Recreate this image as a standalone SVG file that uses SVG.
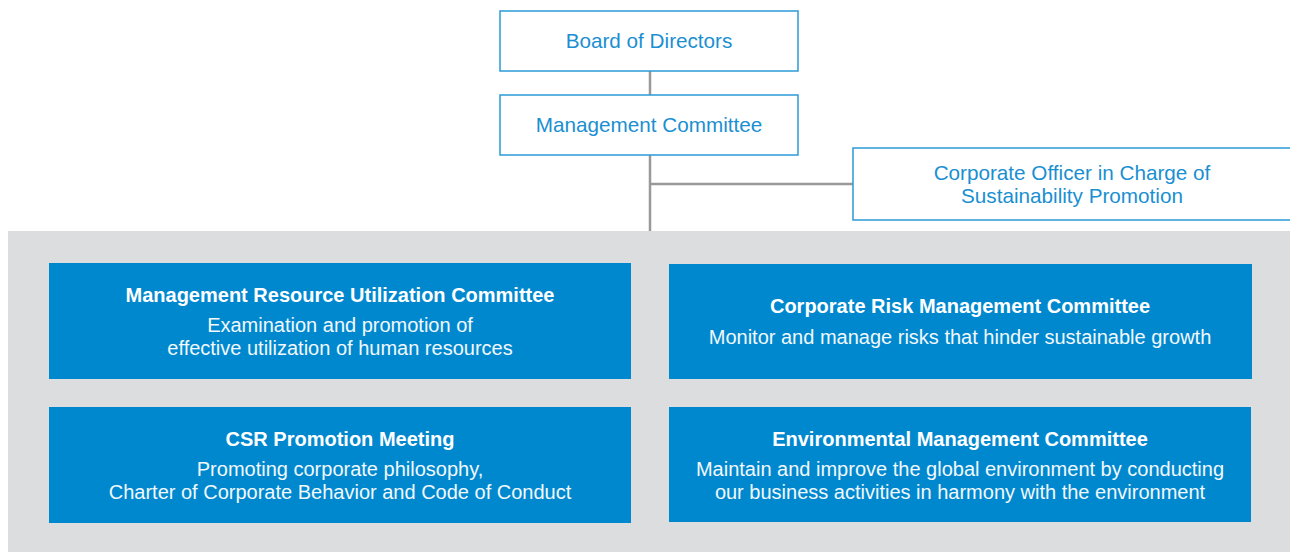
<svg xmlns="http://www.w3.org/2000/svg" width="1290" height="552" viewBox="0 0 1290 552">
  <style>
    .outline { fill: #ffffff; stroke: #2a9ad6; stroke-width: 1.5; }
    .outline-text { font-family: "Liberation Sans", Arial, sans-serif; font-size: 20.7px; fill: #1a8fd1; text-anchor: middle; }
    .panel { fill: #dcdddf; }
    .committee { fill: #0088cf; }
    .title { font-family: "Liberation Sans", Arial, sans-serif; font-size: 20px; font-weight: bold; fill: #ffffff; text-anchor: middle; }
    .desc { font-family: "Liberation Sans", Arial, sans-serif; font-size: 20px; fill: #f2f8fc; text-anchor: middle; }
    .link { stroke: #999999; stroke-width: 2.5; fill: none; }
  </style>

  <!-- shaded area holding the committees -->
  <rect class="panel" x="8" y="231" width="1282" height="321"/>

  <g id="connectors">
    <line class="link" x1="650" y1="71" x2="650" y2="95"/>
    <line class="link" x1="650" y1="155" x2="650" y2="231"/>
    <line class="link" x1="650" y1="184" x2="853" y2="184"/>
  </g>

  <g id="board">
    <rect class="outline" x="500" y="11" width="298" height="60"/>
    <text class="outline-text" x="649" y="48">Board of Directors</text>
  </g>

  <g id="management-committee">
    <rect class="outline" x="500" y="95" width="298" height="60"/>
    <text class="outline-text" x="649" y="132">Management Committee</text>
  </g>

  <g id="corporate-officer">
    <rect class="outline" x="853" y="148" width="445" height="72"/>
    <text class="outline-text" x="1072" y="180">Corporate Officer in Charge of</text>
    <text class="outline-text" x="1072" y="203">Sustainability Promotion</text>
  </g>

  <g id="resource-utilization">
    <rect class="committee" x="49" y="263" width="582" height="116"/>
    <text class="title" x="340" y="302">Management Resource Utilization Committee</text>
    <text class="desc" x="340" y="332">Examination and promotion of</text>
    <text class="desc" x="340" y="355">effective utilization of human resources</text>
  </g>

  <g id="risk-management">
    <rect class="committee" x="669" y="264" width="583" height="115"/>
    <text class="title" x="960" y="313">Corporate Risk Management Committee</text>
    <text class="desc" x="960" y="344">Monitor and manage risks that hinder sustainable growth</text>
  </g>

  <g id="csr-promotion">
    <rect class="committee" x="49" y="407" width="582" height="116"/>
    <text class="title" x="340" y="446">CSR Promotion Meeting</text>
    <text class="desc" x="340" y="476">Promoting corporate philosophy,</text>
    <text class="desc" x="340" y="499">Charter of Corporate Behavior and Code of Conduct</text>
  </g>

  <g id="environmental-management">
    <rect class="committee" x="669" y="407" width="582" height="115"/>
    <text class="title" x="960" y="446">Environmental Management Committee</text>
    <text class="desc" x="960" y="476">Maintain and improve the global environment by conducting</text>
    <text class="desc" x="960" y="499">our business activities in harmony with the environment</text>
  </g>
</svg>
